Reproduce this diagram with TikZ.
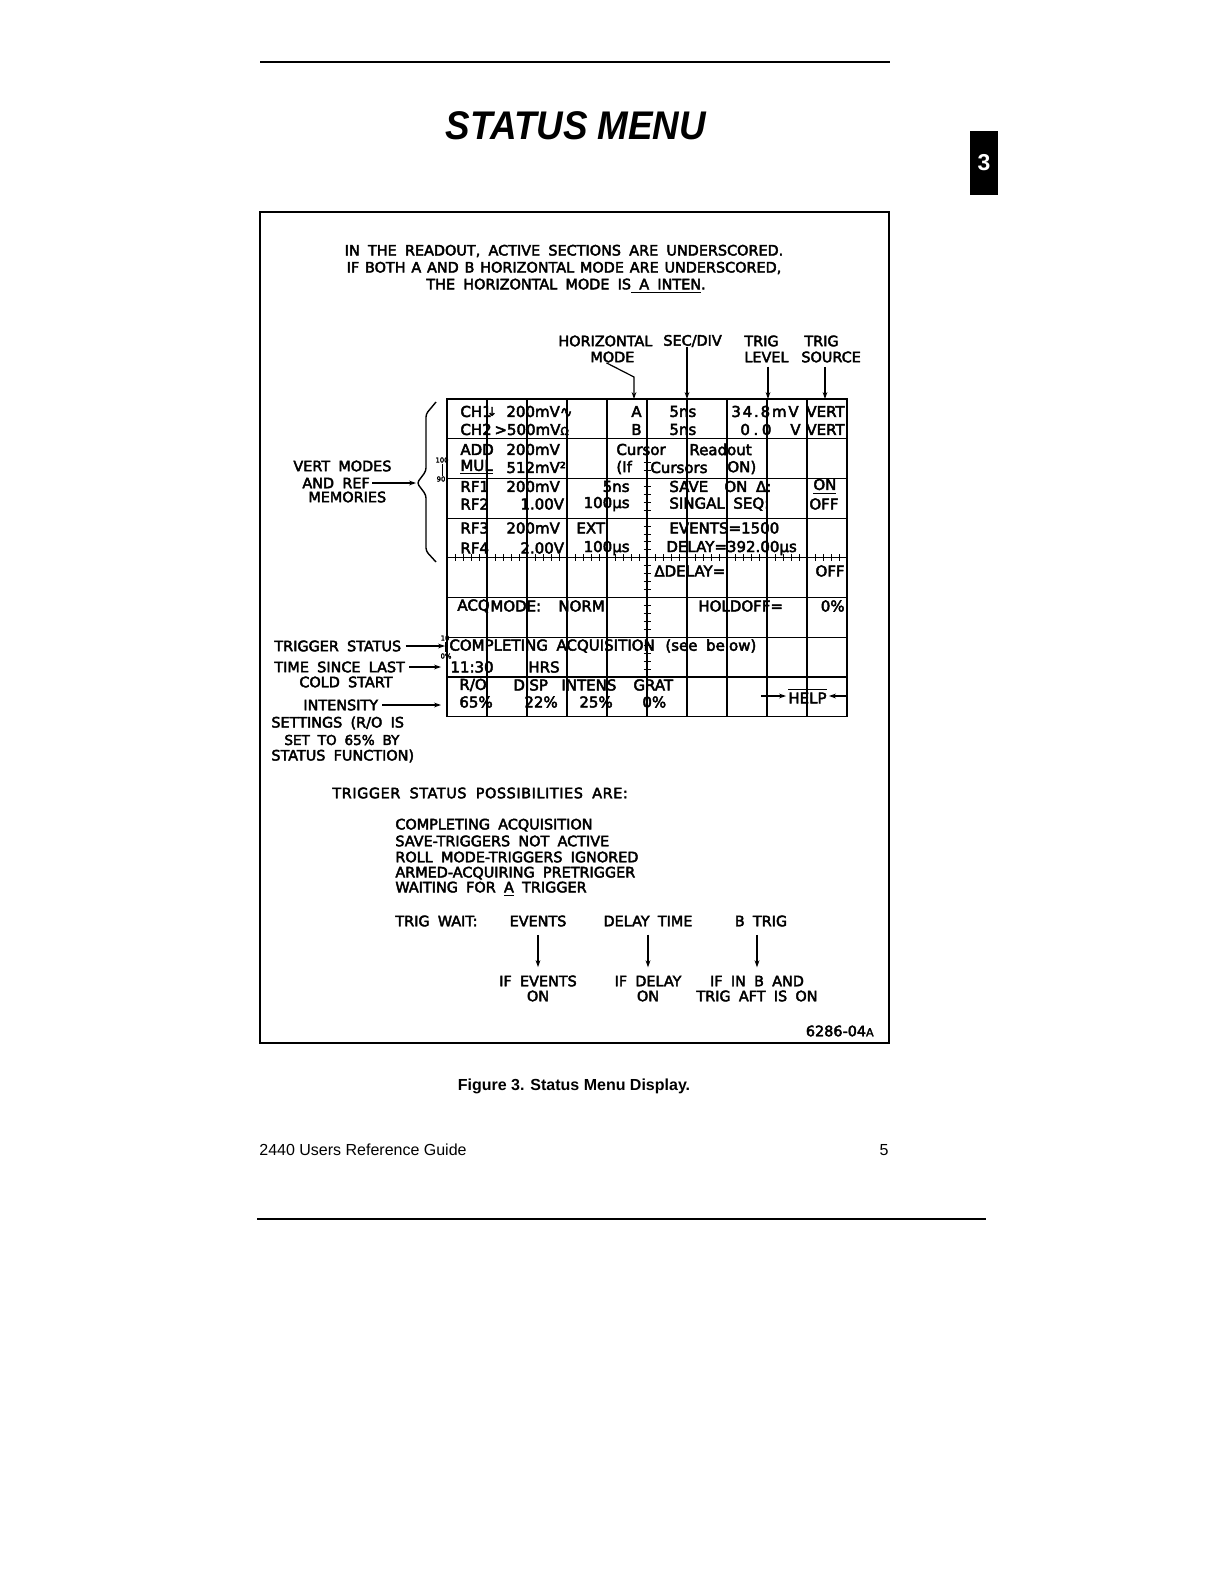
\documentclass[tikz,border=0pt]{standalone}
\usepackage{fontspec}
\setmainfont{Liberation Sans}
\newfontfamily\titlefont[FakeStretch=0.92]{Liberation Sans}
\newfontfamily\plotfont[FakeBold=3, WordSpace=1.5]{DejaVu Sans}
\newfontfamily\notefont[FakeBold=3, WordSpace=1.8]{DejaVu Sans}
\usetikzlibrary{positioning,arrows.meta}
\tikzset{
  >={Stealth[length=3.5pt,width=2.4pt]},
  note/.style={font=\notefont\fontsize{7.2}{8}\selectfont, inner sep=0pt, anchor=west},
  notec/.style={note, anchor=center},
  rd/.style={font=\plotfont\fontsize{7.5}{8}\selectfont, inner sep=0pt, anchor=west},
  rde/.style={rd, anchor=east},
  grat/.style={font=\plotfont\fontsize{3.4}{3.6}\selectfont, inner sep=0pt},
  gridline/.style={line width=0.6pt},
  gtick/.style={line width=0.45pt},
  lead/.style={->, line width=0.6pt},
}

\begin{document}
\begin{tikzpicture}[x=0.5pt, y=-0.5pt]
  \useasboundingbox (0,0) rectangle (1216,1584);
  \fill[white] (0,0) rectangle (1216,1584);

  % page header
  \draw[line width=0.8pt] (260,62) -- (890,62);
  \node[font=\titlefont\bfseries\itshape\fontsize{20}{22}\selectfont, inner sep=0pt] (title) at (576,126) {STATUS MENU};
  \node[fill=black, text=white, minimum width=14pt, minimum height=32pt, inner sep=0pt,
        font=\bfseries\fontsize{11.5}{12}\selectfont] (tab) at (984,163) {3};

  % figure frame
  \draw[line width=1pt] (260,211.5) rectangle (889,1043);

  \node[notec] (hint1) at (564,251) {IN THE READOUT, ACTIVE SECTIONS ARE UNDERSCORED.};
  \node[notec] (hint2) at (564,268) {\spaceskip=2.9pt IF BOTH A AND B HORIZONTAL MODE ARE UNDERSCORED,};
  \node[notec] (hint3) at (566,286) {THE HORIZONTAL MODE IS\underline{\ A\ INTEN}.};

  % labels above the screen
  \node[note] (horiz)   at (558,341) {HORIZONTAL};
  \node[note] (modelbl) at (590,357) {MODE};
  \node[note] (secdiv)  at (663,341) {SEC/DIV};
  \node[note] (trigl)   at (744,341) {TRIG};
  \node[note] (level)   at (744,357) {LEVEL};
  \node[note] (trigs)   at (804,341) {TRIG};
  \node[note] (source)  at (801,357) {SOURCE};

  % screen graticule
  \coordinate (scrtl) at (447,399);
  \coordinate (scrbr) at (847,716.6);
  \draw[line width=0.7pt] (scrtl) rectangle (scrbr);
  \foreach \k in {1,...,9}
    \draw[gridline] (447+40*\k,399) -- (447+40*\k,716.6);
  \foreach \j in {1,...,7}
    \draw[gridline] (447,399+39.7*\j) -- (847,399+39.7*\j);
  \foreach \k in {1,...,49}
    \draw[gtick] (447+8*\k,554.3) -- (447+8*\k,561.3);
  \foreach \j in {8,...,35}
    \draw[gtick] (643.5,399+7.94*\j) -- (650.5,399+7.94*\j);

  \node[grat] (p100) at (442,460) {100};
  \draw[gtick] (442.5,464) -- (442.5,476);
  \node[grat] (p90)  at (441,479) {90};
  \node[grat] (p10)  at (445,638) {10};
  \draw[gtick] (445.5,642) -- (445.5,652);
  \node[grat] (p0)   at (446,656) {0\%};

  % arrows into the screen
  \coordinate (hmbend) at (634,377);
  \coordinate (hmtip)  at (634,399);
  \coordinate (sdtip)  at (687,399);
  \coordinate (tltip)  at (768,399);
  \coordinate (tstip)  at (825,399);
  \draw[lead] ([xshift=-3pt]modelbl.south) -- (hmbend) -- (hmtip);
  \draw[lead] (sdtip |- secdiv.south) -- (sdtip);
  \draw[lead] ([yshift=-2pt]tltip |- level.south) -- (tltip);
  \draw[lead] ([yshift=-2pt]tstip |- source.south) -- (tstip);

  % readout, upper half
  \node[rd] (ch1)   at (460,411.5) {CH1};
  \node[rd, anchor=center, font=\plotfont\fontsize{6}{6}\selectfont] (ch1dn) at (492,411.5) {↓};
  \node[rd] (ch1v)  at (506,411.5) {200mV∿};
  \node[rde] (hma)  at (642,411.5) {A};
  \node[rd] (sda)   at (669,411.5) {5ns};
  \node[rd] (tla)   at (731,411.5) {\addfontfeature{LetterSpace=12}34.8mV};
  \node[rd] (tsa)   at (806,411.5) {VERT};

  \node[rd] (ch2)   at (460,429.5) {CH2};
  \node[rd] (ch2v)  at (494,429.5) {>500mV{\fontsize{5.5}{6}\selectfont Ω}};
  \node[rde] (hmb)  at (642,429.5) {B};
  \node[rd] (sdb)   at (669,429.5) {5ns};
  \node[rd] (tlb)   at (740,429.5) {\addfontfeature{LetterSpace=24}0.0};
  \node[rde] (tlbu) at (801,429.5) {V};
  \node[rd] (tsb)   at (806,429.5) {VERT};

  \node[rd] (add)   at (460,449.5) {ADD};
  \node[rd] (addv)  at (506,449.5) {200mV};
  \node[rd] (cura)  at (616,449.5) {Cursor};
  \node[rd] (curb)  at (689,449.5) {Readout};

  \node[rd] (mul)   at (460,467.5) {\underline{MUL}};
  \node[rd] (mulv)  at (506,467.5) {512mV²};
  \node[rd] (ifa)   at (616,467.5) {(If};
  \node[rd] (ifb)   at (650,467.5) {Cursors};
  \node[rd] (ifc)   at (727,467.5) {ON)};

  \node[rd] (rf1)   at (460,486.5) {RF1};
  \node[rd] (rf1v)  at (506,486.5) {200mV};
  \node[rde] (rf1t) at (630,486.5) {5ns};
  \node[rd] (savea) at (669,486.5) {SAVE};
  \node[rd] (saveb) at (724,486.5) {ON Δ:};
  \node[rd] (saveon) at (813,486.5) {\underline{ON}};

  \node[rd] (rf2)   at (460,504) {RF2};
  \node[rd] (rf2v)  at (520,504) {1.00V};
  \node[rde] (rf2t) at (630,504) {100µs};
  \node[rd] (sseq)  at (669,504) {SINGAL SEQ:};
  \node[rd] (sseqv) at (809,504) {OFF};

  \node[rd] (rf3)   at (460,528) {RF3};
  \node[rd] (rf3v)  at (506,528) {200mV};
  \node[rd] (rf3t)  at (576,528) {EXT};
  \node[rd] (evts)  at (669,528) {EVENTS=1500};

  \node[rd] (rf4)   at (460,548) {RF4};
  \node[rd] (rf4v)  at (520,548) {2.00V};
  \node[rde] (rf4t) at (630,548) {100µs};
  \node[rd] (dly)   at (666,548) {DELAY=392.00µs};

  % readout, lower half
  \node[rd] (ddly)  at (654,571) {ΔDELAY=};
  \node[rde] (ddlyv) at (845,571) {OFF};
  \node[rd] (acq)   at (457,606) {ACQ};
  \node[rd] (acqm)  at (490,606) {MODE:};
  \node[rd] (acqv)  at (558,606) {NORM};
  \node[rd] (hold)  at (698,606) {HOLDOFF=};
  \node[rde] (holdv) at (845,606) {0\%};
  \node[rd] (tstat) at (449,646) {COMPLETING ACQUISITION};
  \node[rd] (tsee)  at (665,646) {(see below)};
  \node[rd] (clock) at (450,667) {11:30};
  \node[rd] (hrs)   at (528,667) {HRS};
  \node[rd] (ro)    at (459,685) {R/O};
  \node[rd] (disp)  at (513,685) {DISP};
  \node[rd] (inte)  at (561,685) {INTENS};
  \node[rd] (grt)   at (633,685) {GRAT};
  \node[rd] (rov)   at (459,702) {65\%};
  \node[rd] (dispv) at (524,702) {22\%};
  \node[rd] (intev) at (579,702) {25\%};
  \node[rd] (grtv)  at (642,702) {0\%};
  \node[rd, inner sep=1pt] (help) at (786,696) {$\overline{\mbox{HELP}}$};
  \coordinate (helpl) at (761,696);
  \coordinate (helpr) at (847,696);
  \draw[lead] (helpl) -- (help.west);
  \draw[lead] (helpr) -- (help.east);

  % labels left of the screen
  \draw[line width=0.7pt, rounded corners=1.5pt] (436,402) -- (426,414) -- (426,471) -- (417,483)
        -- (426,495) -- (426,551) -- (436,562);
  \coordinate (bracetip) at (416,483);
  \node[note] (vmodes) at (293,466) {VERT MODES};
  \node[note] (andref) at (302,483) {AND REF};
  \node[note] (memo)   at (308,497) {MEMORIES};
  \draw[lead] ([xshift=1pt]andref.east) -- (bracetip);

  \node[note] (trigst)  at (274,646) {TRIGGER STATUS};
  \node[note] (tsince)  at (274,667) {TIME SINCE LAST};
  \node[note] (cold)    at (299,682) {COLD START};
  \node[note] (intset)  at (303,705) {INTENSITY};
  \node[note] (setg)    at (271,723) {SETTINGS (R/O IS};
  \node[note, font=\notefont\fontsize{6.8}{7}\selectfont] (setto) at (284,740) {SET TO 65\% BY};
  \node[note] (statfn)  at (271,756) {STATUS FUNCTION)};
  \draw[lead] ([xshift=2pt]trigst.east) -- ([xshift=-1pt]trigst.east -| scrtl);
  \draw[lead] ([xshift=2pt]tsince.east) -- ([xshift=-3pt]tsince.east -| scrtl);
  \draw[lead] ([xshift=2pt]intset.east) -- ([xshift=-3pt]intset.east -| scrtl);

  % trigger status list
  \node[note] (possib) at (332,793) {\addfontfeature{LetterSpace=4}TRIGGER STATUS POSSIBILITIES ARE:};
  \node[note] (st1) at (395,825) {COMPLETING ACQUISITION};
  \node[note] (st2) at (395,841) {SAVE-TRIGGERS NOT ACTIVE};
  \node[note] (st3) at (395,857) {ROLL MODE-TRIGGERS IGNORED};
  \node[note] (st4) at (395,873) {ARMED-ACQUIRING PRETRIGGER};
  \node[note] (st5) at (395,889) {WAITING FOR \underline{A} TRIGGER};

  \node[note]  (twait)   at (395,921) {TRIG WAIT:};
  \node[notec] (wevents) at (538,921) {EVENTS};
  \node[notec] (wdelay)  at (648,921) {DELAY TIME};
  \node[notec] (wbtrig)  at (761,921) {B TRIG};
  \node[notec] (ifev)    at (538,981) {IF EVENTS};
  \node[notec] (ifevon)  at (538,996) {ON};
  \node[notec] (ifdl)    at (648,981) {IF DELAY};
  \node[notec] (ifdlon)  at (648,996) {ON};
  \node[notec] (ifinb)   at (757,981) {IF IN B AND};
  \node[notec] (ifaft)   at (757,996) {TRIG AFT IS ON};
  \draw[lead] ([yshift=-4pt]wevents.south -| ifev.north) -- ([yshift=4pt]ifev.north);
  \draw[lead] ([yshift=-4pt]wdelay.south -| ifdl.north) -- ([yshift=4pt]ifdl.north);
  \draw[lead] ([yshift=-4pt]wbtrig.south -| ifinb.north) -- ([yshift=4pt]ifinb.north);

  \node[note, anchor=east] (fignum) at (874,1031) {6286-04{\fontsize{5.5}{6}\selectfont A}};

  % caption and footer
  \node[font=\bfseries\fontsize{8}{9}\selectfont, inner sep=0pt] (caption) at (574,1086) {Figure 3. Status Menu Display.};
  \node[anchor=west, font=\fontsize{8}{9}\selectfont, inner sep=0pt] (guide) at (259,1150) {2440 Users Reference Guide};
  \node[anchor=east, font=\fontsize{8}{9}\selectfont, inner sep=0pt] (pageno) at (889,1150) {5};
  \draw[line width=0.8pt] (257,1219) -- (986,1219);
\end{tikzpicture}
\end{document}
